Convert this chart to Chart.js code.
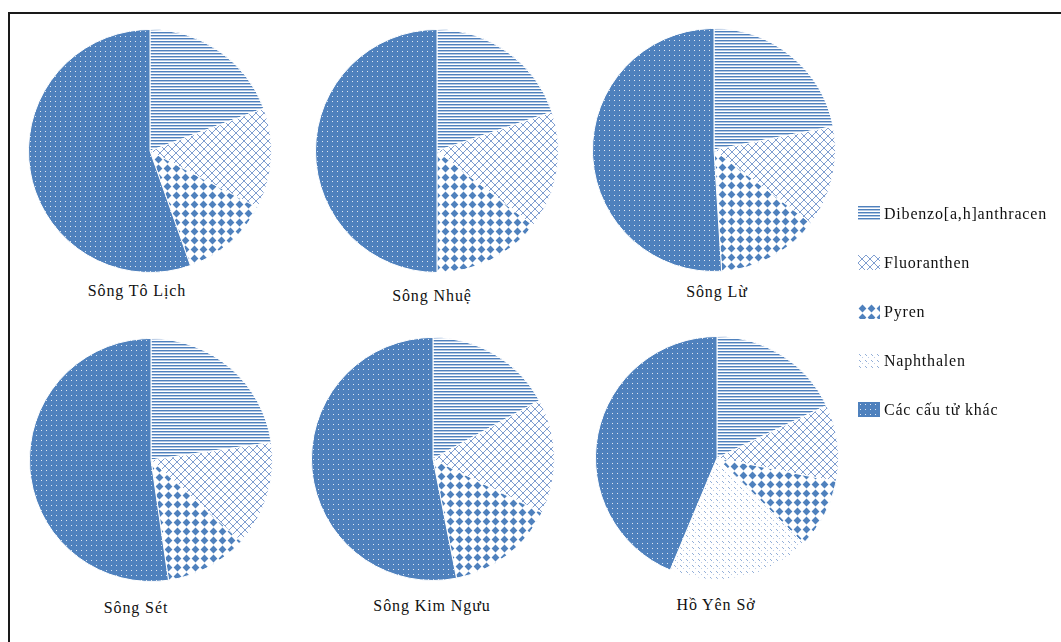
<!DOCTYPE html>
<html lang="vi">
<head>
<meta charset="UTF-8">
<title>Thành phần PAH</title>
<script src="https://cdn.jsdelivr.net/npm/chart.js"></script>
<style>
    body { margin: 0; background: #fff; width: 1061px; height: 642px; overflow: hidden; position: relative; font-family: "Liberation Serif", "DejaVu Serif", serif; }
    .frame { position: absolute; left: 8px; top: 12px; width: 1100px; height: 700px; border: 2px solid #1a1a1a; box-sizing: border-box; }
    .pie { position: absolute; width: 244px; height: 244px; }
    .name { position: absolute; font-size: 16px; letter-spacing: 0.9px; color: #111; transform: translateX(-50%); white-space: nowrap; }
    .legend { position: absolute; left: 858px; top: 189px; }
    .legend .item { display: flex; align-items: center; height: 49px; font-size: 16px; letter-spacing: 0.8px; color: #111; }
    .legend canvas { width: 22px; height: 15px; margin-right: 4px; }
</style>
</head>
<body>
<div class="frame"></div>

<div class="pie" style="left:28px;top:29px"><canvas id="pie0"></canvas></div>
<div class="pie" style="left:315px;top:29px"><canvas id="pie1"></canvas></div>
<div class="pie" style="left:592px;top:28px"><canvas id="pie2"></canvas></div>
<div class="pie" style="left:29px;top:338px"><canvas id="pie3"></canvas></div>
<div class="pie" style="left:311px;top:337px"><canvas id="pie4"></canvas></div>
<div class="pie" style="left:595px;top:336px"><canvas id="pie5"></canvas></div>

<div class="name" id="name0" style="left:137px;top:282px"></div>
<div class="name" id="name1" style="left:432px;top:287px"></div>
<div class="name" id="name2" style="left:717px;top:283px"></div>
<div class="name" id="name3" style="left:136px;top:599px"></div>
<div class="name" id="name4" style="left:432px;top:597px"></div>
<div class="name" id="name5" style="left:716px;top:596px"></div>

<div class="legend" id="legend"></div>

<script>
    // thành phần (%) theo thứ tự chung của chú giải
    const categories = ['Dibenzo[a,h]anthracen', 'Fluoranthen', 'Pyren', 'Naphthalen', 'Các cấu tử khác'];
    const sites = ['Sông Tô Lịch', 'Sông Nhuệ', 'Sông Lừ', 'Sông Sét', 'Sông Kim Ngưu', 'Hồ Yên Sở'];

    const songToLich = [19.3, 13.4, 11.9, 0, 55.4];
    const songNhue = [19.8, 15.7, 14.5, 0, 50.0];
    const songLu = [21.9, 13.4, 13.7, 0, 51.0];
    const songSet = [22.7, 14.0, 11.0, 0, 52.3];
    const songKimNguu = [17.0, 15.3, 14.6, 0, 53.1];
    const hoYenSo = [17.9, 10.2, 9.3, 18.9, 43.7];

    const siteValues = [songToLich, songNhue, songLu, songSet, songKimNguu, hoYenSo];

    const BLUE = '#4f81bd';

    function tile(w, h, draw) {
        const c = document.createElement('canvas');
        c.width = w;
        c.height = h;
        const g = c.getContext('2d');
        draw(g);
        return c;
    }

    // các mẫu tô kiểu Excel
    const tiles = [
        tile(4, 3, g => {
            g.fillStyle = '#fff'; g.fillRect(0, 0, 4, 3);
            g.fillStyle = BLUE; g.fillRect(0, 0, 4, 1);
            g.fillStyle = '#b3c7e3'; g.fillRect(0, 1, 4, 1);
        }),
        tile(8, 8, g => {
            g.fillStyle = '#fff'; g.fillRect(0, 0, 8, 8);
            g.fillStyle = '#7f9ed0';
            for (let i = 0; i < 8; i++) {
                g.fillRect(i, i, 1, 1);
                g.fillRect(7 - i, i, 1, 1);
            }
        }),
        tile(9, 9, g => {
            g.fillStyle = '#fff'; g.fillRect(0, 0, 9, 9);
            g.fillStyle = BLUE;
            g.beginPath();
            g.moveTo(4.5, 0.6); g.lineTo(8.4, 4.5); g.lineTo(4.5, 8.4); g.lineTo(0.6, 4.5);
            g.closePath();
            g.fill();
        }),
        tile(6, 6, g => {
            g.fillStyle = '#fff'; g.fillRect(0, 0, 6, 6);
            g.fillStyle = '#93afd8';
            g.fillRect(1, 1, 1, 1);
            g.fillRect(2, 2, 1, 1);
            g.fillStyle = '#bccde8';
            g.fillRect(4, 4, 1, 1);
        }),
        tile(5, 5, g => {
            g.fillStyle = BLUE; g.fillRect(0, 0, 5, 5);
            g.fillStyle = '#dfe8f4'; g.fillRect(2, 2, 1, 1);
        })
    ];

    function patternsFor(ctx) {
        return tiles.map(t => ctx.createPattern(t, 'repeat'));
    }

    Chart.defaults.animation = false;

    sites.forEach((site, i) => {
        document.getElementById('name' + i).textContent = site;
        const ctx = document.getElementById('pie' + i).getContext('2d');
        new Chart(ctx, {
            type: 'pie',
            data: {
                labels: categories,
                datasets: [{
                    label: site,
                    data: siteValues[i],
                    backgroundColor: patternsFor(ctx),
                    borderColor: '#ffffff',
                    borderWidth: 1
                }]
            },
            options: {
                responsive: true,
                maintainAspectRatio: false,
                layout: { padding: 0 },
                plugins: {
                    legend: { display: false },
                    tooltip: { enabled: false }
                }
            }
        });
    });

    // chú giải
    const legend = document.getElementById('legend');
    categories.forEach((cat, k) => {
        const item = document.createElement('div');
        item.className = 'item';
        const sw = document.createElement('canvas');
        sw.width = 22;
        sw.height = 15;
        const g = sw.getContext('2d');
        g.fillStyle = g.createPattern(tiles[k], 'repeat');
        g.fillRect(0, 0, 22, 15);
        const label = document.createElement('span');
        label.textContent = cat;
        item.appendChild(sw);
        item.appendChild(label);
        legend.appendChild(item);
    });
</script>
</body>
</html>
